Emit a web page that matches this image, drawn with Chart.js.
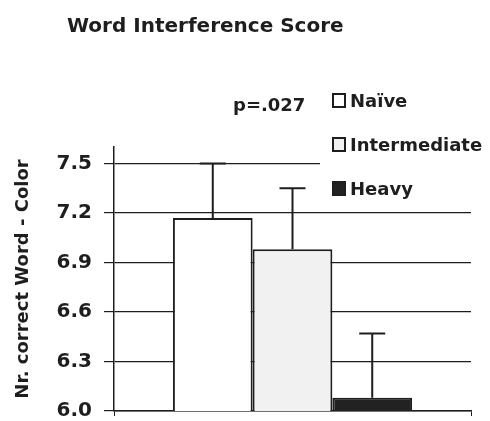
<!DOCTYPE html>
<html>
<head>
<meta charset="utf-8">
<title>Word Interference Score</title>
<script src="https://cdn.jsdelivr.net/npm/chart.js@4.4.1/dist/chart.umd.min.js"></script>
<style>
  html, body { margin: 0; padding: 0; background: #fff; }
  #wrap { width: 490px; height: 421px; }
</style>
</head>
<body>
<div id="wrap"><canvas id="myChart" width="490" height="421"></canvas></div>
<script>
// values
var groups = ['Naïve', 'Intermediate', 'Heavy'];
var means = [7.17, 6.98, 6.08];
var errUp = [0.33, 0.37, 0.39];
var yTicks = [6.0, 6.3, 6.6, 6.9, 7.2, 7.5];
var fills = ['#ffffff', '#f1f1f1', '#222222'];
var pText = 'p=.027';
var chartTitle = 'Word Interference Score';
var yTitle = 'Nr. correct Word - Color';

var ink = '#1e1e1e';
var face = '"DejaVu Sans", Arial, sans-serif';

// error bars (upper half only, like the original)
var errorBars = {
  id: 'errorBars',
  afterDatasetsDraw: function (chart) {
    var ctx = chart.ctx;
    var y = chart.scales.y;
    ctx.save();
    ctx.strokeStyle = ink;
    ctx.lineWidth = 2;
    chart.data.datasets.forEach(function (ds, i) {
      var bar = chart.getDatasetMeta(i).data[0];
      var top = y.getPixelForValue(ds.data[0] + errUp[i]);
      ctx.beginPath();
      ctx.moveTo(bar.x, bar.y);
      ctx.lineTo(bar.x, top);
      ctx.moveTo(bar.x - 13, top);
      ctx.lineTo(bar.x + 13, top);
      ctx.stroke();
    });
    ctx.restore();
  }
};

// title, p value and the boxed legend at top right
var header = {
  id: 'header',
  afterDraw: function (chart) {
    var ctx = chart.ctx;
    ctx.save();
    ctx.fillStyle = ink;
    ctx.textBaseline = 'alphabetic';
    ctx.font = 'bold 20px ' + face;
    ctx.fillText(chartTitle, 67, 32);
    ctx.font = 'bold 18px ' + face;
    ctx.fillText(pText, 233, 111);

    // legend sits on a white box that hides the top gridline
    ctx.fillStyle = '#fff';
    ctx.fillRect(320, 84, 170, 116);
    chart.data.datasets.forEach(function (ds, i) {
      var base = 107 + i * 44;
      ctx.fillStyle = ds.backgroundColor;
      ctx.fillRect(333, base - 13, 12, 13);
      ctx.strokeStyle = ink;
      ctx.lineWidth = 2;
      ctx.strokeRect(333, base - 13, 12, 13);
      ctx.fillStyle = ink;
      ctx.font = 'bold 18px ' + face;
      ctx.fillText(ds.label, 350, base);
    });
    ctx.restore();
  }
};

var ctx = document.getElementById('myChart').getContext('2d');
var myChart = new Chart(ctx, {
  type: 'bar',
  data: {
    labels: [''],
    datasets: groups.map(function (g, i) {
      return {
        label: g,
        data: [means[i]],
        backgroundColor: fills[i],
        borderColor: ink,
        borderWidth: 2,
        borderSkipped: false,
      };
    }),
  },
  options: {
    responsive: false,
    animation: false,
    barPercentage: 1,
    categoryPercentage: 0.67,
    layout: {
      padding: { top: 147, right: 19, bottom: 0, left: 0 },
    },
    plugins: {
      legend: { display: false },
      title: { display: false },
      tooltip: { enabled: false },
    },
    scales: {
      x: {
        grid: {
          offset: true,
          drawOnChartArea: false,
          drawTicks: true,
          tickLength: 5,
          color: ink,
        },
        border: { color: ink, width: 1.5 },
        ticks: { display: false },
        afterFit: function (scale) {
          scale.height = 10;
          scale.paddingLeft = 0;
          scale.paddingRight = 0;
        },
      },
      y: {
        min: 6.0,
        max: 7.6,
        afterBuildTicks: function (scale) {
          scale.ticks = yTicks.map(function (v) { return { value: v }; });
        },
        afterFit: function (scale) {
          scale.width = 114;
          scale.paddingTop = 0;
          scale.paddingBottom = 0;
        },
        grid: {
          color: ink,
          lineWidth: 1.2,
          tickLength: 10,
        },
        border: { color: ink, width: 1.5 },
        ticks: {
          padding: 12,
          color: ink,
          font: { family: face, size: 20, weight: 'bold' },
          callback: function (v) { return Number(v).toFixed(1); },
        },
        title: {
          display: true,
          text: yTitle,
          color: ink,
          padding: { top: 13, bottom: 0 },
          font: { family: face, size: 18, weight: 'bold' },
        },
      },
    },
  },
  plugins: [errorBars, header],
});
</script>
</body>
</html>
